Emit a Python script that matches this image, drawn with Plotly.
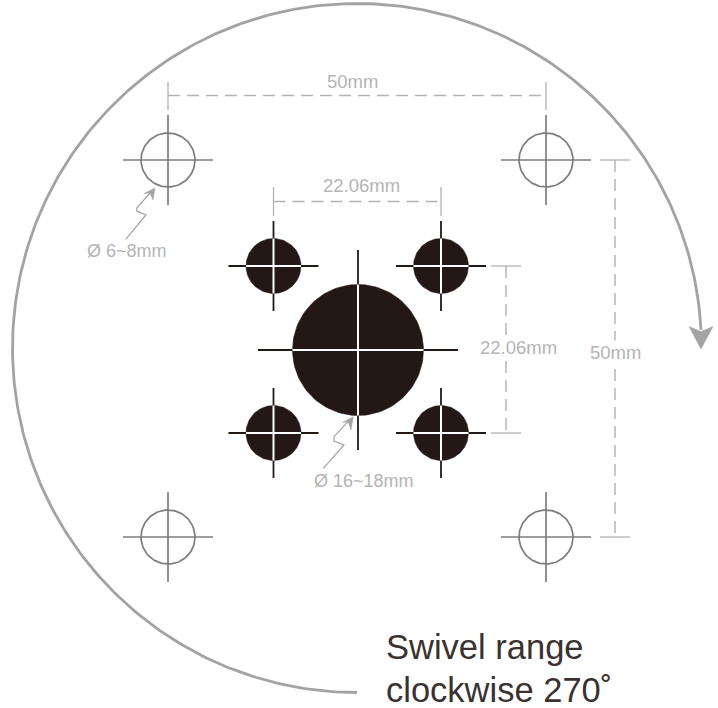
import numpy as np
import plotly.graph_objects as go

W, H = 718, 708
GREY_ARC = "#a3a3a3"
GREY_DIM = "#b2b2b2"
GREY_TXT = "#b4b4b4"
GREY_HOLE = "#7d7d7d"
DARK = "#231815"

outline_holes_x = [168, 546, 168, 546]
outline_holes_y = [160, 160, 537, 537]
outline_radius = 27
outline_arm = 45

small_holes_x = [273.5, 441, 273.5, 441]
small_holes_y = [266, 266, 433, 433]
small_radius = 27.5
small_arm = 45

big_hole = (358, 350)
big_radius = 65.5
big_arm = 100

# swivel arc, degrees (screen coordinates)
arc_center = (357, 348)
arc_radius = 344.5
arc_start_deg = 90
arc_end_deg = 357

# dimension lines: (x0, y0, x1, y1)
dim_dashed = [
    (168, 95.5, 546, 95.5),
    (273.5, 201.5, 441, 201.5),
    (506, 266, 506, 433),
    (615, 160, 615, 537),
]
dim_ticks = [
    (168, 82, 168, 110), (546, 82, 546, 110),
    (273.5, 187, 273.5, 216), (441, 187, 441, 216),
    (491, 266, 521, 266), (491, 433, 521, 433),
    (600, 160, 630, 160), (600, 537, 630, 537),
]

squiggle_a_x = [125.7, 146, 136.7, 136.7, 150]
squiggle_a_y = [239.3, 215, 211, 208, 193]
head_a_x = [155, 144, 150, 153]
head_a_y = [188, 193.5, 193, 200]

squiggle_b_x = [323.3, 344, 334, 334, 348]
squiggle_b_y = [468.3, 445, 441, 436.7, 421.7]
head_b_x = [353.3, 342.5, 348, 351]
head_b_y = [416.7, 422.5, 421.7, 430]

arrow_x = [701, 689, 701, 713]
arrow_y = [349, 326.5, 331.5, 326.5]

labels = [
    ("50mm", 352, 81.5, 18.5, None),
    ("22.06mm", 361, 185, 18.5, None),
    ("Ø 6~8mm", 127, 251, 18, None),
    ("22.06mm", 518, 347.5, 18.5, "white"),
    ("50mm", 615, 352, 18.5, "white"),
    ("Ø 16~18mm", 363.5, 481, 18, None),
]
caption = [("Swivel range", 384, 647), ("clockwise 270˚", 384, 690)]
caption_size = 34.5


def circle(cx, cy, r):
    t = np.radians(np.arange(0, 361, 3))
    return cx + r * np.cos(t), cy + r * np.sin(t)


fig = go.Figure()


def line(xs, ys, color, width, dash=None):
    fig.add_trace(go.Scatter(x=xs, y=ys, mode="lines",
                             line=dict(color=color, width=width, dash=dash),
                             hoverinfo="skip", showlegend=False))


def poly(xs, ys, color):
    fig.add_trace(go.Scatter(x=xs + xs[:1], y=ys + ys[:1], mode="lines", fill="toself",
                             fillcolor=color, line=dict(color=color, width=0.5),
                             hoverinfo="skip", showlegend=False))


# swivel arc
t = np.radians(np.linspace(arc_start_deg, arc_end_deg, 300))
line(arc_center[0] + arc_radius * np.cos(t), arc_center[1] + arc_radius * np.sin(t), GREY_ARC, 2.8)
poly(arrow_x, arrow_y, GREY_ARC)

# outlined holes
for cx, cy in zip(outline_holes_x, outline_holes_y):
    x, y = circle(cx, cy, outline_radius)
    line(x, y, GREY_HOLE, 1.7)
    line([cx - outline_arm, cx + outline_arm], [cy, cy], GREY_HOLE, 1.7)
    line([cx, cx], [cy - outline_arm, cy + outline_arm], GREY_HOLE, 1.7)

# filled holes
filled = [(cx, cy, small_radius, small_arm) for cx, cy in zip(small_holes_x, small_holes_y)]
filled.append((big_hole[0], big_hole[1], big_radius, big_arm))
for cx, cy, r, arm in filled:
    line([cx - arm, cx + arm], [cy, cy], DARK, 1.8)
    line([cx, cx], [cy - arm, cy + arm], DARK, 1.8)
    x, y = circle(cx, cy, r)
    poly(list(x), list(y), DARK)
    line([cx - r, cx + r], [cy, cy], "#ffffff", 2)
    line([cx, cx], [cy - r, cy + r], "#ffffff", 2)

# dimensions
for x0, y0, x1, y1 in dim_dashed:
    line([x0, x1], [y0, y1], GREY_DIM, 1.4, "12px,7px")
for x0, y0, x1, y1 in dim_ticks:
    line([x0, x1], [y0, y1], GREY_DIM, 1.3)

# callouts
line(squiggle_a_x, squiggle_a_y, GREY_ARC, 1.2)
poly(head_a_x, head_a_y, GREY_ARC)
line(squiggle_b_x, squiggle_b_y, GREY_ARC, 1.2)
poly(head_b_x, head_b_y, GREY_ARC)

annotations = []
for text, x, y, size, bg in labels:
    annotations.append(dict(x=x, y=y, text=text, xref="x", yref="y", showarrow=False,
                            xanchor="center", yanchor="middle", bgcolor=bg,
                            font=dict(family="Liberation Sans", size=size, color=GREY_TXT)))
for text, x, y in caption:
    annotations.append(dict(x=x, y=y, text=text, xref="x", yref="y", showarrow=False,
                            xanchor="left", yanchor="middle",
                            font=dict(family="Liberation Sans", size=caption_size, color="#3a3230")))

fig.update_layout(
    width=W, height=H, margin=dict(l=0, r=0, t=0, b=0),
    paper_bgcolor="white", plot_bgcolor="white",
    xaxis=dict(range=[0, W], visible=False, fixedrange=True),
    yaxis=dict(range=[H, 0], visible=False, fixedrange=True),
    annotations=annotations, showlegend=False,
)
fig.write_html("out.html", config=dict(displayModeBar=False),
               post_script="document.body.style.margin='0';document.body.style.overflow='hidden';")
